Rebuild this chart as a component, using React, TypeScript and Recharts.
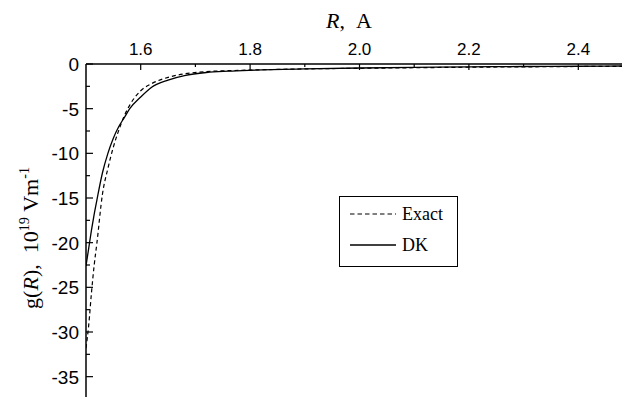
import React from 'react';
import { LineChart, Line, XAxis, YAxis } from 'recharts';

const rValues = [1.5, 1.505, 1.51, 1.515, 1.52, 1.53, 1.54, 1.55, 1.56, 1.57, 1.58, 1.6, 1.62, 1.65, 1.68, 1.72, 1.76, 1.8, 1.9, 2.0, 2.1, 2.2, 2.3, 2.4, 2.5];
const dkValues = [-22.6, -20.6, -18.6, -16.8, -15.2, -12.2, -10.0, -8.3, -7.0, -6.0, -5.0, -3.7, -2.6, -1.8, -1.3, -0.95, -0.8, -0.7, -0.55, -0.45, -0.38, -0.32, -0.28, -0.25, -0.22];
const exactValues = [-31.8, -29.2, -25.6, -22.5, -20.0, -14.6, -11.7, -9.3, -7.4, -5.8, -4.6, -3.0, -2.2, -1.5, -1.1, -0.85, -0.75, -0.68, -0.55, -0.48, -0.42, -0.36, -0.32, -0.28, -0.25];

const xMajor = [1.6, 1.8, 2.0, 2.2, 2.4];
const xMinor = [1.7, 1.9, 2.1, 2.3, 2.5];
const yMajor = [0, -5, -10, -15, -20, -25, -30, -35];
const yMinor = [-2.5, -7.5, -12.5, -17.5, -22.5, -27.5, -32.5];

const data = rValues.map((r, i) => ({ r, dk: dkValues[i], exact: exactValues[i] }));

const isMajor = (list: number[], v: number) => list.some((m) => Math.abs(m - v) < 1e-6);

const XTick = (props: any) => {
  const { x, y, payload } = props;
  const major = isMajor(xMajor, payload.value);
  return (
    <g>
      <line x1={x} y1={y} x2={x} y2={y + (major ? 6 : 3)} stroke="#000" strokeWidth={1.2} />
      {major && (
        <text x={x} y={y - 9} textAnchor="middle" fontSize={17} fontFamily="Liberation Sans, Arial" fill="#000">
          {payload.value.toFixed(1)}
        </text>
      )}
    </g>
  );
};

const YTick = (props: any) => {
  const { x, y, payload } = props;
  const major = isMajor(yMajor, payload.value);
  return (
    <g>
      <line x1={x} y1={y} x2={x + (major ? 7 : 4)} y2={y} stroke="#000" strokeWidth={1.2} />
      {major && (
        <text x={x - 7} y={y + 7} textAnchor="end" fontSize={19} fontFamily="Liberation Sans, Arial" fill="#000">
          {payload.value}
        </text>
      )}
    </g>
  );
};

export default function App() {
  return (
    <div style={{ position: 'absolute', left: 0, top: 0, width: 622, height: 397, overflow: 'hidden', background: '#fff' }}>
      <LineChart width={640} height={400} data={data} margin={{ top: 34, right: 7, bottom: 1, left: 26 }}>
        <XAxis
          dataKey="r"
          type="number"
          orientation="top"
          domain={[1.5, 2.5]}
          allowDataOverflow
          ticks={[...xMajor, ...xMinor].sort((a, b) => a - b)}
          interval={0}
          height={30}
          tickSize={0}
          tickMargin={0}
          tickLine={false}
          axisLine={{ stroke: '#000', strokeWidth: 1.5 }}
          tick={<XTick />}
        />
        <YAxis
          type="number"
          domain={[-37.5, 0]}
          allowDataOverflow
          ticks={[...yMajor, ...yMinor].sort((a, b) => b - a)}
          interval={0}
          width={60}
          tickSize={0}
          tickMargin={0}
          tickLine={false}
          axisLine={{ stroke: '#000', strokeWidth: 1.5 }}
          tick={<YTick />}
        />
        <Line type="monotone" dataKey="exact" stroke="#000" strokeWidth={1.2} strokeDasharray="4 3" dot={false} isAnimationActive={false} />
        <Line type="monotone" dataKey="dk" stroke="#000" strokeWidth={1.3} dot={false} isAnimationActive={false} />
      </LineChart>
      <div style={{ position: 'absolute', left: 339, top: 196, border: '1px solid #000', width: 119, height: 71, background: '#fff', boxSizing: 'border-box' }}>
        <svg width={117} height={69} style={{ display: 'block' }}>
          <line x1={10} y1={17} x2={56} y2={17} stroke="#000" strokeWidth={1.2} strokeDasharray="4.5 3" />
          <text x={62} y={23} fontSize={18} fontFamily="Liberation Serif, Times New Roman" fill="#000">Exact</text>
          <line x1={10} y1={48} x2={56} y2={48} stroke="#000" strokeWidth={1.3} />
          <text x={62} y={54} fontSize={18} fontFamily="Liberation Serif, Times New Roman" fill="#000">DK</text>
        </svg>
      </div>
      <svg width={622} height={397} style={{ position: 'absolute', left: 0, top: 0, pointerEvents: 'none' }}>
        <text x={326} y={28} fontSize={22} fontFamily="Liberation Serif, Times New Roman" fill="#000">
          <tspan fontStyle="italic">R</tspan>
          <tspan>,{'\u00a0\u00a0'}A</tspan>
        </text>
        <text transform="translate(38,238) rotate(-90)" textAnchor="middle" fontSize={22} fontFamily="Liberation Serif, Times New Roman" fill="#000">
          <tspan>g(</tspan>
          <tspan fontStyle="italic">R</tspan>
          <tspan>),{'\u00a0\u00a0'}10</tspan>
          <tspan fontSize={14} dy={-9}>19</tspan>
          <tspan dy={9}>{'\u00a0'}Vm</tspan>
          <tspan fontSize={14} dy={-9}>-1</tspan>
        </text>
      </svg>
    </div>
  );
}
